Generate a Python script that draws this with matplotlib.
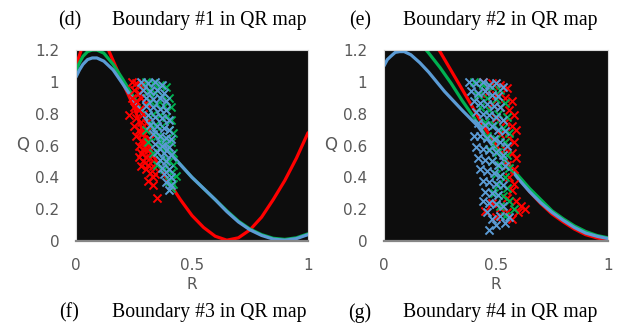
import matplotlib
matplotlib.use('Agg')
import matplotlib.pyplot as plt

# boundary curves, panel (d)
r_d_blue = [0, 0.015, 0.03, 0.05, 0.07, 0.09, 0.12, 0.16, 0.2, 0.25, 0.3, 0.35, 0.4, 0.45, 0.5, 0.55, 0.6, 0.65, 0.7, 0.75, 0.8, 0.85, 0.9, 0.95, 1.0]
q_d_blue = [1.03, 1.075, 1.11, 1.14, 1.15, 1.15, 1.13, 1.075, 0.99, 0.88, 0.77, 0.66, 0.56, 0.48, 0.40, 0.33, 0.26, 0.185, 0.12, 0.07, 0.035, 0.012, 0.005, 0.015, 0.04]
q_d_green = [1.07, 1.12, 1.16, 1.19, 1.20, 1.20, 1.18, 1.11, 1.02, 0.90, 0.78, 0.67, 0.565, 0.48, 0.40, 0.33, 0.26, 0.19, 0.125, 0.075, 0.04, 0.017, 0.01, 0.02, 0.045]
r_d_red = [0, 0.02, 0.05, 0.08, 0.11, 0.14, 0.17, 0.2, 0.25, 0.28, 0.3, 0.35, 0.4, 0.45, 0.5, 0.55, 0.6, 0.65, 0.7, 0.75, 0.8, 0.85, 0.9, 0.95, 1.0]
q_d_red = [1.1, 1.19, 1.3, 1.34, 1.3, 1.2, 1.1, 1.0, 0.84, 0.72, 0.64, 0.49, 0.37, 0.26, 0.16, 0.085, 0.03, 0.005, 0.02, 0.07, 0.15, 0.26, 0.38, 0.52, 0.68]

# boundary curves, panel (e)
r_e_blue = [0, 0.015, 0.03, 0.05, 0.07, 0.09, 0.12, 0.16, 0.2, 0.27, 0.35, 0.42, 0.5, 0.55, 0.6, 0.65, 0.7, 0.75, 0.8, 0.85, 0.9, 0.95, 1.0]
q_e_blue = [1.1, 1.14, 1.16, 1.185, 1.19, 1.19, 1.17, 1.12, 1.06, 0.94, 0.82, 0.72, 0.57, 0.48, 0.39, 0.31, 0.24, 0.18, 0.13, 0.085, 0.05, 0.03, 0.015]
r_e_green = [0.17, 0.2, 0.25, 0.3, 0.35, 0.4, 0.45, 0.5, 0.55, 0.6, 0.65, 0.7, 0.75, 0.8, 0.85, 0.9, 0.95, 1.0]
q_e_green = [1.23, 1.18, 1.09, 0.99, 0.88, 0.78, 0.67, 0.58, 0.49, 0.41, 0.33, 0.26, 0.19, 0.14, 0.095, 0.06, 0.035, 0.02]
r_e_red = [0.22, 0.25, 0.3, 0.35, 0.4, 0.45, 0.5, 0.55, 0.6, 0.65, 0.7, 0.75, 0.8, 0.85, 0.9, 0.95, 1.0]
q_e_red = [1.25, 1.19, 1.07, 0.95, 0.83, 0.71, 0.6, 0.5, 0.4, 0.31, 0.235, 0.17, 0.12, 0.075, 0.04, 0.02, 0.005]

# sampled points (R, Q), panel (d)
pts_d_red = [(0.24, 1.0), (0.26, 0.99), (0.28, 0.98), (0.25, 0.95), (0.27, 0.93), (0.29, 0.95), (0.24, 0.9), (0.26, 0.88),
             (0.28, 0.9), (0.3, 0.87), (0.25, 0.84), (0.27, 0.82), (0.29, 0.8), (0.23, 0.79), (0.26, 0.77), (0.28, 0.75),
             (0.3, 0.74), (0.25, 0.72), (0.27, 0.7), (0.29, 0.68), (0.31, 0.7), (0.26, 0.66), (0.28, 0.63), (0.3, 0.62),
             (0.32, 0.64), (0.27, 0.6), (0.29, 0.58), (0.31, 0.57), (0.28, 0.55), (0.3, 0.53), (0.32, 0.52), (0.29, 0.5),
             (0.31, 0.48), (0.33, 0.47), (0.3, 0.45), (0.32, 0.43), (0.34, 0.42), (0.33, 0.4), (0.31, 0.38), (0.33, 0.35),
             (0.35, 0.27), (0.28, 0.47), (0.27, 0.53), (0.29, 0.62), (0.3, 0.58), (0.28, 0.67)]
pts_d_green = [(0.3, 1.0), (0.33, 0.99), (0.36, 0.98), (0.39, 0.97), (0.31, 0.94), (0.34, 0.93), (0.37, 0.92), (0.4, 0.9),
               (0.32, 0.88), (0.35, 0.86), (0.38, 0.85), (0.41, 0.84), (0.33, 0.8), (0.36, 0.79), (0.39, 0.78), (0.41, 0.76),
               (0.34, 0.73), (0.37, 0.72), (0.4, 0.7), (0.42, 0.68), (0.35, 0.66), (0.38, 0.64), (0.41, 0.62), (0.36, 0.59),
               (0.39, 0.57), (0.42, 0.55), (0.37, 0.52), (0.4, 0.5), (0.42, 0.48), (0.38, 0.45), (0.41, 0.43), (0.43, 0.41),
               (0.4, 0.38), (0.42, 0.36), (0.41, 0.33), (0.3, 0.7), (0.31, 0.62), (0.33, 0.55), (0.35, 0.48)]
pts_d_blue = [(0.28, 1.0), (0.31, 0.99), (0.34, 1.0), (0.37, 0.98), (0.29, 0.95), (0.32, 0.94), (0.35, 0.95), (0.38, 0.93),
              (0.3, 0.9), (0.33, 0.89), (0.36, 0.9), (0.39, 0.88), (0.3, 0.85), (0.33, 0.84), (0.36, 0.83), (0.39, 0.82),
              (0.31, 0.79), (0.34, 0.78), (0.37, 0.77), (0.4, 0.76), (0.32, 0.73), (0.35, 0.72), (0.38, 0.71), (0.4, 0.7),
              (0.33, 0.67), (0.36, 0.66), (0.39, 0.65), (0.41, 0.64), (0.34, 0.61), (0.37, 0.6), (0.4, 0.59), (0.35, 0.56),
              (0.38, 0.55), (0.41, 0.54), (0.36, 0.51), (0.39, 0.5), (0.37, 0.46), (0.4, 0.45), (0.38, 0.42), (0.41, 0.4),
              (0.39, 0.37), (0.41, 0.35), (0.4, 0.32)]

# sampled points (R, Q), panel (e)
pts_e_red = [(0.44, 1.0), (0.48, 0.99), (0.52, 0.98), (0.55, 0.96), (0.46, 0.93), (0.5, 0.92), (0.54, 0.9), (0.57, 0.88),
             (0.48, 0.86), (0.52, 0.84), (0.56, 0.82), (0.58, 0.79), (0.5, 0.77), (0.54, 0.75), (0.57, 0.72), (0.59, 0.7),
             (0.52, 0.67), (0.56, 0.65), (0.58, 0.62), (0.54, 0.58), (0.57, 0.55), (0.59, 0.52), (0.55, 0.48), (0.58, 0.45),
             (0.56, 0.4), (0.58, 0.36), (0.57, 0.32), (0.55, 0.27), (0.59, 0.25), (0.61, 0.22), (0.52, 0.21), (0.55, 0.18),
             (0.6, 0.18), (0.63, 0.2), (0.5, 0.15), (0.57, 0.14), (0.48, 0.24), (0.45, 0.19)]
pts_e_green = [(0.4, 1.0), (0.44, 0.98), (0.48, 0.97), (0.52, 0.95), (0.42, 0.92), (0.46, 0.9), (0.5, 0.89), (0.54, 0.87),
               (0.43, 0.84), (0.47, 0.82), (0.51, 0.8), (0.55, 0.78), (0.45, 0.75), (0.49, 0.73), (0.53, 0.71), (0.56, 0.68),
               (0.46, 0.66), (0.5, 0.64), (0.54, 0.62), (0.47, 0.58), (0.51, 0.56), (0.55, 0.54), (0.48, 0.5), (0.52, 0.48),
               (0.56, 0.46), (0.5, 0.42), (0.54, 0.4), (0.51, 0.35), (0.55, 0.33), (0.53, 0.28), (0.56, 0.25), (0.52, 0.22),
               (0.58, 0.2), (0.54, 0.16), (0.49, 0.3)]
pts_e_blue = [(0.38, 1.0), (0.41, 0.99), (0.44, 1.0), (0.47, 0.98), (0.5, 0.99), (0.53, 0.97), (0.39, 0.94), (0.42, 0.93),
              (0.45, 0.94), (0.48, 0.92), (0.51, 0.91), (0.4, 0.88), (0.43, 0.87), (0.46, 0.86), (0.49, 0.85), (0.52, 0.84),
              (0.41, 0.81), (0.44, 0.8), (0.47, 0.79), (0.5, 0.78), (0.53, 0.76), (0.42, 0.74), (0.45, 0.73), (0.48, 0.72),
              (0.51, 0.7), (0.54, 0.69), (0.4, 0.66), (0.43, 0.66), (0.46, 0.65), (0.49, 0.64), (0.52, 0.62), (0.55, 0.6),
              (0.41, 0.59), (0.44, 0.58), (0.47, 0.57), (0.5, 0.56), (0.53, 0.54), (0.42, 0.52), (0.45, 0.51), (0.48, 0.5),
              (0.51, 0.48), (0.54, 0.47), (0.43, 0.45), (0.46, 0.44), (0.49, 0.43), (0.52, 0.41), (0.44, 0.38), (0.47, 0.37),
              (0.5, 0.36), (0.53, 0.35), (0.45, 0.31), (0.48, 0.3), (0.51, 0.29), (0.44, 0.25), (0.47, 0.24), (0.5, 0.23),
              (0.53, 0.22), (0.46, 0.18), (0.48, 0.14), (0.52, 0.16), (0.56, 0.15), (0.5, 0.1), (0.47, 0.07), (0.54, 0.11)]

x_ticks = [0, 0.5, 1]
y_ticks = [0, 0.2, 0.4, 0.6, 0.8, 1.0, 1.2]
y_labels = ['0', '0.2', '0.4', '0.6', '0.8', '1', '1.2']

RED = '#ff0000'
GREEN = '#00b050'
BLUE = '#5b9bd5'
TICK_C = '#595959'
SERIF = 'Liberation Serif'


def draw_panel(ax, curves, points):
    ax.set_facecolor('#0d0d0d')
    for r, q, c in curves:
        ax.plot(r, q, color=c, lw=2.3, solid_capstyle='round', solid_joinstyle='round', zorder=2)
    for pts, c in points:
        ax.scatter([p[0] for p in pts], [p[1] for p in pts], marker='x', s=34,
                   color=c, linewidths=1.4, zorder=3)
    ax.set_xlim(0, 1)
    ax.set_ylim(0, 1.2)
    ax.set_xticks(x_ticks)
    ax.set_xticklabels(['0', '0.5', '1'])
    ax.set_yticks(y_ticks)
    ax.set_yticklabels(y_labels)
    ax.tick_params(length=0, labelsize=11, labelcolor=TICK_C, pad=12)
    for s in ['top', 'right', 'left']:
        ax.spines[s].set_color('#d9d9d9')
        ax.spines[s].set_linewidth(0.8)
    ax.spines['bottom'].set_color('#868686')
    ax.spines['bottom'].set_linewidth(1.6)
    ax.set_xlabel('R', color=TICK_C, fontsize=11, labelpad=3)
    ax.set_ylabel('Q', color=TICK_C, fontsize=12, rotation=0, labelpad=0, va='center')
    ax.yaxis.set_label_coords(-0.23, 0.5)


fig = plt.figure(figsize=(6.19, 3.23), dpi=100)

ax_d = fig.add_axes([76 / 619, 82 / 323, 232 / 619, 191 / 323])
draw_panel(ax_d,
           [(r_d_red, q_d_red, RED), (r_d_blue, q_d_green, GREEN), (r_d_blue, q_d_blue, BLUE)],
           [(pts_d_red, RED), (pts_d_green, GREEN), (pts_d_blue, BLUE)])

ax_e = fig.add_axes([384 / 619, 82 / 323, 224 / 619, 191 / 323])
draw_panel(ax_e,
           [(r_e_red, q_e_red, RED), (r_e_green, q_e_green, GREEN), (r_e_blue, q_e_blue, BLUE)],
           [(pts_e_red, RED), (pts_e_green, GREEN), (pts_e_blue, BLUE)])
ax_e.yaxis.set_label_coords(-0.24, 0.5)

# panel captions
FS = 14.2
fig.text(70 / 619, 1 - 21 / 323, '(d)', family=SERIF, fontsize=FS, ha='center', va='center')
fig.text(112 / 619, 1 - 21 / 323, 'Boundary #1 in QR map', family=SERIF, fontsize=FS, ha='left', va='center')
fig.text(360 / 619, 1 - 21 / 323, '(e)', family=SERIF, fontsize=FS, ha='center', va='center')
fig.text(403 / 619, 1 - 21 / 323, 'Boundary #2 in QR map', family=SERIF, fontsize=FS, ha='left', va='center')
fig.text(69 / 619, 1 - 313 / 323, '(f)', family=SERIF, fontsize=FS, ha='center', va='center')
fig.text(112 / 619, 1 - 313 / 323, 'Boundary #3 in QR map', family=SERIF, fontsize=FS, ha='left', va='center')
fig.text(360 / 619, 1 - 313 / 323, '(g)', family=SERIF, fontsize=FS, ha='center', va='center')
fig.text(403 / 619, 1 - 313 / 323, 'Boundary #4 in QR map', family=SERIF, fontsize=FS, ha='left', va='center')

fig.savefig('out.png', dpi=100)
